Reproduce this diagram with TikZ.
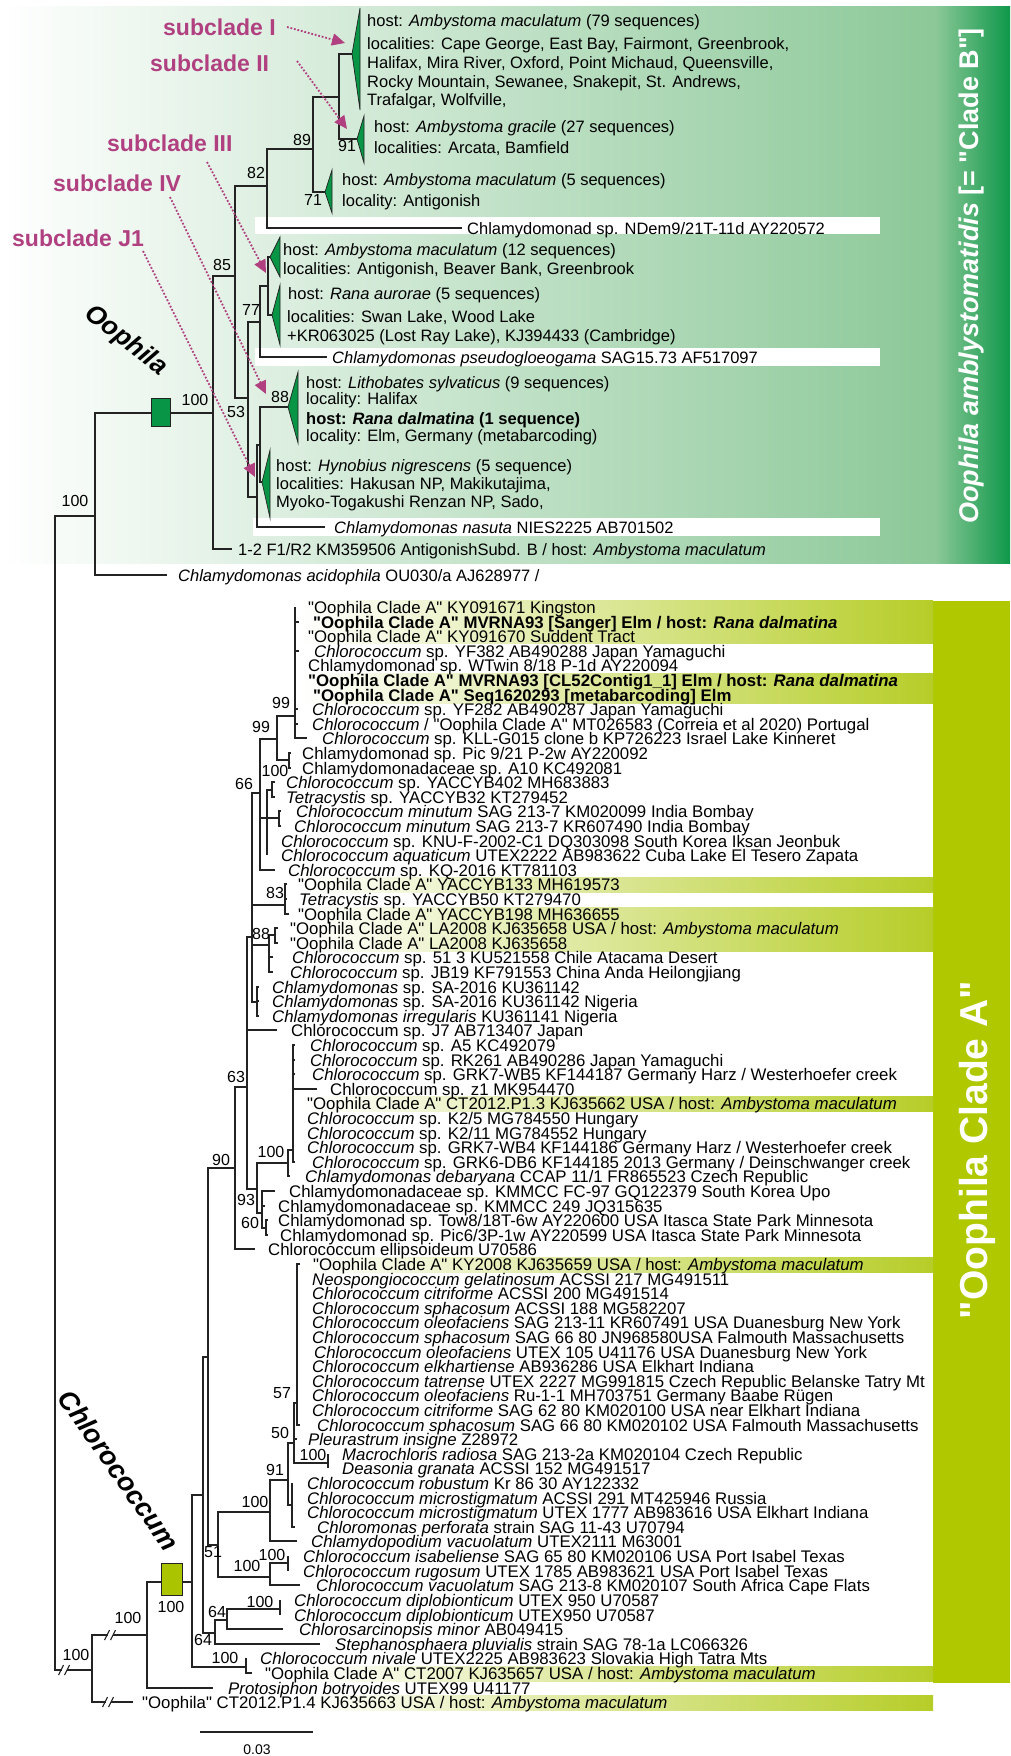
\documentclass[tikz,border=0pt]{standalone}
\usepackage{fontspec}
\setmainfont{Liberation Sans}[Ligatures=TeXOff]
\usetikzlibrary{arrows.meta}

\definecolor{treeline}{RGB}{35,35,35}
\definecolor{oogreen}{RGB}{8,150,70}
\definecolor{bgmid}{RGB}{140,200,152}
\definecolor{bgdark}{RGB}{14,152,74}
\definecolor{chlgreen}{RGB}{170,196,0}
\definecolor{barA}{RGB}{175,200,0}
\definecolor{bandA}{RGB}{182,205,40}
\definecolor{subpink}{RGB}{176,64,128}

\newcommand{\cladeBfont}{\fontsize{16.5}{18}\selectfont}
\newcommand{\cladeAfont}{\fontsize{16.8}{18}\selectfont}
\newcommand{\bsfont}{\fontsize{16}{18}\selectfont}

% leaf: name, parent, tip x, text x, y, text
\newcommand{\leaf}[6]{%
  \node[leaf] (#1) at (#4,#5) {#6};
  \draw[br] (#2) |- ([xshift={(#3-#4)*1pt}]#1.west);}

% broken branch mark
\newcommand{\slashmark}[1]{%
  \fill[white] ([xshift=-2.5pt,yshift=-6pt]#1) rectangle ([xshift=2.5pt,yshift=6pt]#1);
  \draw[br] ([xshift=-5.5pt,yshift=-5pt]#1) -- ([xshift=-0.5pt,yshift=5pt]#1);
  \draw[br] ([xshift=0.5pt,yshift=-5pt]#1) -- ([xshift=5.5pt,yshift=5pt]#1);}

\begin{document}
\begin{tikzpicture}[x=1pt, y=-1pt,
  br/.style={draw=treeline, line width=1.1pt},
  leaf/.style={anchor=west, inner sep=0pt, text height=12pt, text depth=0pt, font=\cladeAfont},
  info/.style={anchor=west, inner sep=0pt, text height=12pt, text depth=0pt, font=\cladeBfont},
  bs/.style={inner sep=0pt, font=\bsfont},
  tri/.style={fill=oogreen, draw=treeline, line width=0.7pt},
  subtag/.style={anchor=west, inner sep=0pt, text=subpink, font=\fontsize{23}{25}\selectfont\bfseries},
  subarrow/.style={draw=subpink, line width=1.8pt, dash pattern=on 1.8pt off 1.8pt, -{Triangle[length=13pt,width=12pt]}},
  cladebox/.style={draw=treeline, line width=0.7pt, inner sep=0pt},
  band/.style={left color=white, right color=bandA}]

\useasboundingbox (0,0) rectangle (1010,1756);

% clade B background
\shade[left color=white, right color=bgmid] (0,6) rectangle (935,563);
\shade[left color=bgmid, right color=bgdark] (935,6) rectangle (1010,563);
\fill[white] (255,217) rectangle (880,234);
\fill[white] (255,348) rectangle (880,366);
\fill[white] (253,518) rectangle (880,536);

% clade A background
\fill[barA] (933,601) rectangle (1010,1683);
\shade[band] (300,600) rectangle (933,643);
\shade[band] (300,673) rectangle (933,703);
\shade[band] (300,877) rectangle (933,892);
\shade[band] (300,907) rectangle (933,951);
\shade[band] (300,1096) rectangle (933,1111);
\shade[band] (300,1257) rectangle (933,1272);
\shade[band] (300,1666) rectangle (933,1681);
\shade[band] (300,1695) rectangle (933,1710);

% ---- clade B tree
\coordinate (root) at (55,1093);
\coordinate (nB0) at (95,516);
\coordinate (nOo) at (213,413);
\coordinate (n85) at (235,276);
\coordinate (n82) at (267,186);
\coordinate (n89) at (313,149);
\coordinate (n91) at (339,97);
\coordinate (n53) at (248,398);
\coordinate (n77) at (260,322);
\coordinate (nIII) at (268,286);
\coordinate (nX) at (257,497);
\coordinate (nY) at (260,445);
\coordinate (tI) at (352,54);
\coordinate (tII) at (357,139);
\coordinate (t5) at (325,192);
\coordinate (tIII) at (270,257);
\coordinate (tRA) at (272,315);
\coordinate (t88) at (288,407);
\coordinate (tJ1) at (262,482);

\draw[br] (root) |- (nB0);
\draw[br] (nB0) |- (nOo);
\draw[br] (nOo) |- (n85);
\draw[br] (n85) |- (n82);
\draw[br] (n85) |- (n53);
\draw[br] (n82) |- (n89);
\draw[br] (n89) |- (n91);
\draw[br] (n91) |- (tI);
\draw[br] (n91) |- (tII);
\draw[br] (n89) |- (t5);
\draw[br] (n53) |- (n77);
\draw[br] (n53) |- (nX);
\draw[br] (n77) |- (nIII);
\draw[br] (nIII) |- (tIII);
\draw[br] (nIII) |- (tRA);
\draw[br] (nX) |- (nY);
\draw[br] (nY) |- (t88);
\draw[br] (nY) |- (tJ1);

\draw[tri] (tI) -- ++(8,-46) -- ++(0,102) -- cycle;
\draw[tri] (tII) -- ++(7,-23) -- ++(0,47) -- cycle;
\draw[tri] (t5) -- ++(7,-22) -- ++(0,43) -- cycle;
\draw[tri] (tIII) -- ++(10,-20) -- ++(0,40) -- cycle;
\draw[tri] (tRA) -- ++(8,-30) -- ++(0,60) -- cycle;
\draw[tri] (t88) -- ++(10,-35) -- ++(0,71) -- cycle;
\draw[tri] (tJ1) -- ++(8,-32) -- ++(0,68) -- cycle;

\node[info] (ndem) at (467,228) {Chlamydomonad sp. NDem9/21T-11d AY220572};
\draw[br] (n82) |- ([xshift=-5pt]ndem.west);
\node[info] (pseudo) at (332,357) {\textit{Chlamydomonas pseudogloeogama} SAG15.73 AF517097};
\draw[br] (n77) |- ([xshift=-5pt]pseudo.west);
\node[info] (nasuta) at (334,527) {\textit{Chlamydomonas nasuta} NIES2225 AB701502};
\draw[br] (nX) |- ([xshift=-9pt]nasuta.west);
\node[info] (antig) at (238,549) {1-2 F1/R2 KM359506 AntigonishSubd. B / host: \textit{Ambystoma maculatum}};
\draw[br] (nOo) |- ([xshift=-6pt]antig.west);
\node[info] (acido) at (178,575) {\textit{Chlamydomonas acidophila} OU030/a AJ628977 /};
\draw[br] (nB0) |- ([xshift=-11pt]acido.west);

\node[cladebox, fill=oogreen, minimum width=19pt, minimum height=28pt] (oobox) at (160.5,412) {};

\node[info] (iI1) at (367,20) {host: \textit{Ambystoma maculatum} (79 sequences)};
\node[info] (iI2) at (367,43) {localities: Cape George, East Bay, Fairmont, Greenbrook,};
\node[info] (iI3) at (367,62) {Halifax, Mira River, Oxford, Point Michaud, Queensville,};
\node[info] (iI4) at (367,81) {Rocky Mountain, Sewanee, Snakepit, St. Andrews,};
\node[info] (iI5) at (367,99) {Trafalgar, Wolfville,};
\node[info] (iII1) at (374,126) {host: \textit{Ambystoma gracile} (27 sequences)};
\node[info] (iII2) at (374,147) {localities: Arcata, Bamfield};
\node[info] (i51) at (342,179) {host: \textit{Ambystoma maculatum} (5 sequences)};
\node[info] (i52) at (342,200) {locality: Antigonish};
\node[info] (iIII1) at (283,249) {host: \textit{Ambystoma maculatum} (12 sequences)};
\node[info] (iIII2) at (283,268) {localities: Antigonish, Beaver Bank, Greenbrook};
\node[info] (iRA1) at (288,293) {host: \textit{Rana aurorae} (5 sequences)};
\node[info] (iRA2) at (287,316) {localities: Swan Lake, Wood Lake};
\node[info] (iRA3) at (287,335) {+KR063025 (Lost Ray Lake), KJ394433 (Cambridge)};
\node[info] (i881) at (306,382) {host: \textit{Lithobates sylvaticus} (9 sequences)};
\node[info] (i882) at (306,398) {locality: Halifax};
\node[info] (i883) at (306,418) {\textbf{host: \textit{Rana dalmatina} (1 sequence)}};
\node[info] (i884) at (306,435) {locality: Elm, Germany (metabarcoding)};
\node[info] (iJ11) at (276,465) {host: \textit{Hynobius nigrescens} (5 sequence)};
\node[info] (iJ12) at (276,483) {localities: Hakusan NP, Makikutajima,};
\node[info] (iJ13) at (276,501) {Myoko-Togakushi Renzan NP, Sado,};

\node[bs] (b100a) at (75,501) {100};
\node[bs] (b100b) at (195,400) {100};
\node[bs] (b85) at (222,265) {85};
\node[bs] (b82) at (256,173) {82};
\node[bs] (b89) at (302,140) {89};
\node[bs] (b91) at (347,146) {91};
\node[bs] (b71) at (313,200) {71};
\node[bs] (b77) at (251,310) {77};
\node[bs] (b53) at (236,412) {53};
\node[bs] (b88) at (280,397) {88};

% subclade tags
\node[subtag] (sI) at (163,27) {subclade I};
\node[subtag] (sII) at (150,63) {subclade II};
\node[subtag] (sIII) at (107,143) {subclade III};
\node[subtag] (sIV) at (53,183) {subclade IV};
\node[subtag] (sJ1) at (12,238) {subclade J1};
\coordinate (aIs) at (287,27);   \coordinate (aI) at (345,43);
\coordinate (aIIs) at (297,61);  \coordinate (aII) at (347,129);
\coordinate (aIIIs) at (207,162); \coordinate (aIII) at (266,273);
\coordinate (aIVs) at (170,197); \coordinate (aIV) at (266,394);
\coordinate (aJ1s) at (143,251); \coordinate (aJ1) at (255,477);
\draw[subarrow] (aIs) -- (aI);
\draw[subarrow] (aIIs) -- (aII);
\draw[subarrow] (aIIIs) -- (aIII);
\draw[subarrow] (aIVs) -- (aIV);
\draw[subarrow] (aJ1s) -- (aJ1);

\node[rotate=-38, inner sep=0pt, font=\fontsize{26}{28}\selectfont\bfseries\itshape] (oolab) at (126,341) {Oophila};
\node[rotate=90, inner sep=0pt, text=white, font=\fontsize{27}{30}\selectfont\bfseries] (cladeB) at (972,276) {\textit{Oophila amblystomatidis} [= "Clade B"]};

% ---- clade A tree
\coordinate (nA92) at (92,1670);
\coordinate (nA147) at (147,1635);
\coordinate (nA192) at (192,1582);
\coordinate (nA203) at (203,1495);
\coordinate (nA208) at (208,1357);
\coordinate (n90) at (235,1168);
\coordinate (n63) at (247,1087);
\coordinate (nV) at (252,937);
\coordinate (n66) at (260,793);
\coordinate (n99a) at (277,739);
\coordinate (n99b) at (295,716);
\coordinate (n100b) at (289,760);
\coordinate (nG) at (267,818);
\coordinate (nYT) at (272,790);
\coordinate (nMin) at (279,818);
\coordinate (n83) at (285,905);
\coordinate (n88) at (269,945);
\coordinate (nLA) at (275,935);
\coordinate (nSA) at (257,1002);
\coordinate (n93) at (257,1189);
\coordinate (n100s) at (288,1163);
\coordinate (nC) at (293,1150);
\coordinate (nK) at (262,1213);
\coordinate (n60) at (266,1228);
\coordinate (n51) at (218,1545);
\coordinate (n100c) at (270,1512);
\coordinate (n91b) at (288,1480);
\coordinate (n50) at (294,1443);
\coordinate (n57) at (297,1403);
\coordinate (nMD) at (328,1463);
\coordinate (nRob) at (292,1505);
\coordinate (nIsab) at (270,1577);
\coordinate (nIR) at (288,1563);
\coordinate (n64l) at (215,1633);
\coordinate (n64u) at (227,1620);
\coordinate (nDip) at (280,1609);
\coordinate (nNiv) at (246,1667);

\draw[br] (root) |- (nA92);
\draw[br] (nA92) |- (nA147);
\draw[br] (nA147) |- (nA192);
\draw[br] (nA192) |- (nA203);
\draw[br] (nA192) |- (nNiv);
\draw[br] (nA203) |- (nA208);
\draw[br] (nA203) |- (n64l);
\draw[br] (nA208) |- (n90);
\draw[br] (nA208) |- (n51);
\draw[br] (n90) |- (n63);
\draw[br] (n63) |- (nV);
\draw[br] (n63) |- (n93);
\draw[br] (nV) |- (n66);
\draw[br] (nV) |- (n83);
\draw[br] (nV) |- (n88);
\draw[br] (nV) |- (nSA);
\draw[br] (n66) |- (n99a);
\draw[br] (n66) |- (nG);
\draw[br] (n99a) |- (n99b);
\draw[br] (n99a) |- (n100b);
\draw[br] (nG) |- (nYT);
\draw[br] (nG) |- (nMin);
\draw[br] (n88) |- (nLA);
\draw[br] (n93) |- (n100s);
\draw[br] (n93) |- (nK);
\draw[br] (n100s) |- (nC);
\draw[br] (nK) |- (n60);
\draw[br] (n51) |- (n100c);
\draw[br] (n51) |- (nIsab);
\draw[br] (n100c) |- (n91b);
\draw[br] (n91b) |- (n50);
\draw[br] (n91b) |- (nRob);
\draw[br] (n50) |- (n57);
\draw[br] (n50) |- (nMD);
\draw[br] (nIsab) |- (nIR);
\draw[br] (n64l) |- (n64u);
\draw[br] (n64u) |- (nDip);

\leaf{a01}{n99b}{295}{308}{607}{"Oophila Clade A" KY091671 Kingston}
\leaf{a02}{n99b}{299}{313}{622}{\textbf{"Oophila Clade A" MVRNA93 [Sanger] Elm / host: \textit{Rana dalmatina}}}
\leaf{a03}{n99b}{295}{308}{636}{"Oophila Clade A" KY091670 Suddent Tract}
\leaf{a04}{n99b}{299}{314}{651}{\textit{Chlorococcum} sp. YF382 AB490288 Japan Yamaguchi}
\leaf{a05}{n99b}{295}{308}{665}{Chlamydomonad sp. WTwin 8/18 P-1d AY220094}
\leaf{a06}{n99b}{295}{308}{680}{\textbf{"Oophila Clade A" MVRNA93 [CL52Contig1\_1] Elm / host: \textit{Rana dalmatina}}}
\leaf{a07}{n99b}{295}{313}{695}{\textbf{"Oophila Clade A" Seq1620293 [metabarcoding] Elm}}
\leaf{a08}{n99b}{298}{312}{709}{\textit{Chlorococcum} sp. YF282 AB490287 Japan Yamaguchi}
\leaf{a09}{n99b}{298}{312}{724}{\textit{Chlorococcum} / "Oophila Clade A" MT026583 (Correia et al 2020) Portugal}
\leaf{a10}{n99b}{307}{322}{738}{\textit{Chlorococcum} sp. KLL-G015 clone b KP726223 Israel Lake Kinneret}
\leaf{a11}{n100b}{291}{302}{753}{Chlamydomonad sp. Pic 9/21 P-2w AY220092}
\leaf{a12}{n100b}{291}{302}{768}{Chlamydomonadaceae sp. A10 KC492081}
\leaf{a13}{nYT}{275}{286}{782}{\textit{Chlorococcum} sp. YACCYB402 MH683883}
\leaf{a14}{nYT}{275}{286}{797}{\textit{Tetracystis} sp. YACCYB32 KT279452}
\leaf{a15}{nMin}{281}{296}{811}{\textit{Chlorococcum minutum} SAG 213-7 KM020099 India Bombay}
\leaf{a16}{nMin}{281}{294}{826}{\textit{Chlorococcum minutum} SAG 213-7 KR607490 India Bombay}
\leaf{a17}{nG}{267}{281}{841}{\textit{Chlorococcum} sp. KNU-F-2002-C1 DQ303098 South Korea Iksan Jeonbuk}
\leaf{a18}{nG}{267}{281}{855}{\textit{Chlorococcum aquaticum} UTEX2222 AB983622 Cuba Lake El Tesero Zapata}
\leaf{a19}{n66}{275}{288}{870}{\textit{Chlorococcum} sp. KQ-2016 KT781103}
\leaf{a20}{n83}{287}{298}{884}{"Oophila Clade A" YACCYB133 MH619573}
\leaf{a21}{n83}{287}{299}{899}{\textit{Tetracystis} sp. YACCYB50 KT279470}
\leaf{a22}{n83}{289}{298}{914}{"Oophila Clade A" YACCYB198 MH636655}
\leaf{a23}{nLA}{278}{290}{928}{"Oophila Clade A" LA2008 KJ635658 USA / host: \textit{Ambystoma maculatum}}
\leaf{a24}{nLA}{278}{290}{943}{"Oophila Clade A" LA2008 KJ635658}
\leaf{a25}{n88}{273}{292}{957}{\textit{Chlorococcum} sp. 51 3 KU521558 Chile Atacama Desert}
\leaf{a26}{n88}{273}{290}{972}{\textit{Chlorococcum} sp. JB19 KF791553 China Anda Heilongjiang}
\leaf{a27}{nSA}{259}{272}{987}{\textit{Chlamydomonas} sp. SA-2016 KU361142}
\leaf{a28}{nSA}{259}{272}{1001}{\textit{Chlamydomonas} sp. SA-2016 KU361142 Nigeria}
\leaf{a29}{nSA}{259}{272}{1016}{\textit{Chlamydomonas irregularis} KU361141 Nigeria}
\leaf{a30}{n63}{277}{291}{1030}{Chlorococcum sp. J7 AB713407 Japan}
\leaf{a31}{nC}{295}{310}{1045}{\textit{Chlorococcum} sp. A5 KC492079}
\leaf{a32}{nC}{295}{310}{1060}{\textit{Chlorococcum} sp. RK261 AB490286 Japan Yamaguchi}
\leaf{a33}{nC}{295}{312}{1074}{\textit{Chlorococcum} sp. GRK7-WB5 KF144187 Germany Harz / Westerhoefer creek}
\leaf{a34}{nC}{317}{330}{1089}{Chlorococcum sp. z1 MK954470}
\leaf{a35}{nC}{293}{307}{1103}{"Oophila Clade A" CT2012.P1.3 KJ635662 USA / host: \textit{Ambystoma maculatum}}
\leaf{a36}{nC}{293}{307}{1118}{\textit{Chlorococcum} sp. K2/5 MG784550 Hungary}
\leaf{a37}{nC}{293}{307}{1133}{\textit{Chlorococcum} sp. K2/11 MG784552 Hungary}
\leaf{a38}{nC}{293}{307}{1147}{\textit{Chlorococcum} sp. GRK7-WB4 KF144186 Germany Harz / Westerhoefer creek}
\leaf{a39}{nC}{295}{312}{1162}{\textit{Chlorococcum} sp. GRK6-DB6 KF144185 2013 Germany / Deinschwanger creek}
\leaf{a40}{n100s}{290}{305}{1176}{\textit{Chlamydomonas debaryana} CCAP 11/1 FR865523 Czech Republic}
\leaf{a41}{nK}{275}{289}{1191}{Chlamydomonadaceae sp. KMMCC FC-97 GQ122379 South Korea Upo}
\leaf{a42}{nK}{265}{278}{1206}{Chlamydomonadaceae sp. KMMCC 249 JQ315635}
\leaf{a43}{n60}{268}{278}{1220}{Chlamydomonad sp. Tow8/18T-6w AY220600 USA Itasca State Park Minnesota}
\leaf{a44}{n60}{268}{280}{1235}{Chlamydomonad sp. Pic6/3P-1w AY220599 USA Itasca State Park Minnesota}
\leaf{a45}{n90}{255}{268}{1249}{Chlorococcum ellipsoideum U70586}
\leaf{a46}{n57}{300}{313}{1264}{"Oophila Clade A" KY2008 KJ635659 USA / host: \textit{Ambystoma maculatum}}
\leaf{a47}{n57}{297}{312}{1279}{\textit{Neospongiococcum gelatinosum} ACSSI 217 MG491511}
\leaf{a48}{n57}{297}{312}{1293}{\textit{Chlorococcum citriforme} ACSSI 200 MG491514}
\leaf{a49}{n57}{297}{312}{1308}{\textit{Chlorococcum sphacosum} ACSSI 188 MG582207}
\leaf{a50}{n57}{297}{312}{1322}{\textit{Chlorococcum oleofaciens} SAG 213-11 KR607491 USA Duanesburg New York}
\leaf{a51}{n57}{297}{312}{1337}{\textit{Chlorococcum sphacosum} SAG 66 80 JN968580USA Falmouth Massachusetts}
\leaf{a52}{n57}{297}{314}{1352}{\textit{Chlorococcum oleofaciens} UTEX 105 U41176 USA Duanesburg New York}
\leaf{a53}{n57}{297}{312}{1366}{\textit{Chlorococcum elkhartiense} AB936286 USA Elkhart Indiana}
\leaf{a54}{n57}{297}{312}{1381}{\textit{Chlorococcum tatrense} UTEX 2227 MG991815 Czech Republic Belanske Tatry Mt}
\leaf{a55}{n57}{297}{312}{1395}{\textit{Chlorococcum oleofaciens} Ru-1-1 MH703751 Germany Baabe Rügen}
\leaf{a56}{n57}{297}{312}{1410}{\textit{Chlorococcum citriforme} SAG 62 80 KM020100 USA near Elkhart Indiana}
\leaf{a57}{n57}{300}{317}{1425}{\textit{Chlorococcum sphacosum} SAG 66 80 KM020102 USA Falmouth Massachusetts}
\leaf{a58}{n50}{297}{308}{1439}{\textit{Pleurastrum insigne} Z28972}
\leaf{a59}{nMD}{328}{342}{1454}{\textit{Macrochloris radiosa} SAG 213-2a KM020104 Czech Republic}
\leaf{a60}{nMD}{328}{342}{1468}{\textit{Deasonia granata} ACSSI 152 MG491517}
\leaf{a61}{nRob}{292}{307}{1483}{\textit{Chlorococcum robustum} Kr 86 30 AY122332}
\leaf{a62}{nRob}{292}{307}{1498}{\textit{Chlorococcum microstigmatum} ACSSI 291 MT425946 Russia}
\leaf{a63}{nRob}{292}{307}{1512}{\textit{Chlorococcum microstigmatum} UTEX 1777 AB983616 USA Elkhart Indiana}
\leaf{a64}{nRob}{295}{317}{1527}{\textit{Chloromonas perforata} strain SAG 11-43 U70794}
\leaf{a65}{n100c}{297}{311}{1541}{\textit{Chlamydopodium vacuolatum} UTEX2111 M63001}
\leaf{a66}{nIR}{288}{303}{1556}{\textit{Chlorococcum isabeliense} SAG 65 80 KM020106 USA Port Isabel Texas}
\leaf{a67}{nIR}{288}{303}{1571}{\textit{Chlorococcum rugosum} UTEX 1785 AB983621 USA Port Isabel Texas}
\leaf{a68}{nIsab}{300}{316}{1585}{\textit{Chlorococcum vacuolatum} SAG 213-8 KM020107 South Africa Cape Flats}
\leaf{a69}{nDip}{280}{294}{1600}{\textit{Chlorococcum diplobionticum} UTEX 950 U70587}
\leaf{a70}{nDip}{280}{294}{1615}{\textit{Chlorococcum diplobionticum} UTEX950 U70587}
\leaf{a71}{n64u}{283}{299}{1629}{\textit{Chlorosarcinopsis minor} AB049415}
\leaf{a72}{n64l}{320}{335}{1644}{\textit{Stephanosphaera pluvialis} strain SAG 78-1a LC066326}
\leaf{a73}{nNiv}{246}{260}{1658}{\textit{Chlorococcum nivale} UTEX2225 AB983623 Slovakia High Tatra Mts}
\leaf{a74}{nNiv}{252}{265}{1673}{"Oophila Clade A" CT2007 KJ635657 USA / host: \textit{Ambystoma maculatum}}
\leaf{a75}{nA147}{213}{228}{1688}{\textit{Protosiphon botryoides} UTEX99 U41177}
\leaf{a76}{nA92}{133}{142}{1702}{"Oophila" CT2012.P1.4 KJ635663 USA / host: \textit{Ambystoma maculatum}}

\node[cladebox, fill=chlgreen, minimum width=21pt, minimum height=32pt] (chlbox) at (171.5,1579) {};

\coordinate (cut1) at (64,1670);
\coordinate (cut2) at (110,1635);
\coordinate (cut3) at (108,1702);
\slashmark{cut1}
\slashmark{cut2}
\slashmark{cut3}

\node[bs] (c99b) at (281,703) {99};
\node[bs] (c99a) at (261,727) {99};
\node[bs] (c100b) at (275,771) {100};
\node[bs] (c66) at (244,784) {66};
\node[bs] (c83) at (275,893) {83};
\node[bs] (c88) at (261,934) {88};
\node[bs] (c63) at (236,1077) {63};
\node[bs] (c90) at (221,1160) {90};
\node[bs] (c100s) at (271,1152) {100};
\node[bs] (c93) at (246,1200) {93};
\node[bs] (c60) at (250,1223) {60};
\node[bs] (c57) at (282,1393) {57};
\node[bs] (c50) at (280,1433) {50};
\node[bs] (c91) at (275,1470) {91};
\node[bs] (c100m) at (313,1455) {100};
\node[bs] (c100c) at (255,1502) {100};
\node[bs] (c51) at (213,1552) {51};
\node[bs] (c100ir) at (272,1555) {100};
\node[bs] (c100is) at (247,1566) {100};
\node[bs] (c100d) at (260,1602) {100};
\node[bs] (c64u) at (217,1612) {64};
\node[bs] (c64l) at (203,1640) {64};
\node[bs] (c100n) at (225,1658) {100};
\node[bs] (c100box) at (171,1607) {100};
\node[bs] (c100x) at (128,1618) {100};
\node[bs] (c100r) at (76,1655) {100};

\node[rotate=-55, inner sep=0pt, font=\fontsize{27}{30}\selectfont\bfseries\itshape] (chllab) at (119,1470) {Chlorococcum};
\node[rotate=90, inner sep=0pt, text=white, font=\fontsize{39}{42}\selectfont\bfseries] (cladeA) at (977,1150) {"Oophila Clade A"};

% scale bar
\coordinate (sbL) at (200,1732);
\coordinate (sbR) at (313,1732);
\draw[br] (sbL) -- (sbR);
\node[inner sep=0pt, font=\fontsize{14}{16}\selectfont] (sblab) at (257,1750) {0.03};

\end{tikzpicture}
\end{document}
